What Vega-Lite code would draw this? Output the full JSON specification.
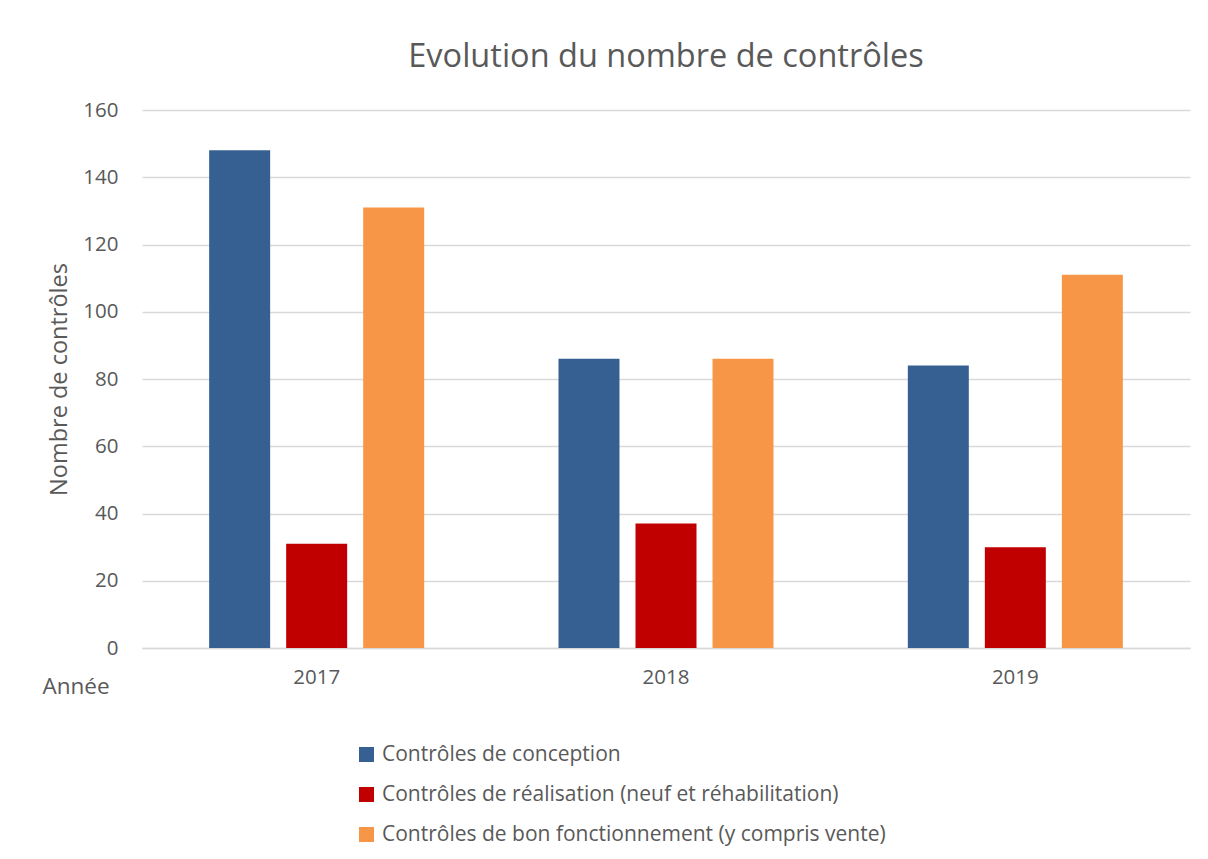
{
  "$schema": "https://vega.github.io/schema/vega-lite/v6.json",
  "width": 1048,
  "height": 538,
  "autosize": {"type": "none"},
  "padding": {"left": 142, "top": 110, "right": 18, "bottom": 211},
  "background": "white",
  "config": {
    "view": {"stroke": null},
    "font": "Open Sans",
    "axis": {"labelFont": "Open Sans", "titleFont": "Open Sans"},
    "legend": {"labelFont": "Open Sans"}
  },
  "title": {
    "text": "Evolution du nombre de contrôles",
    "fontSize": 32.5,
    "font": "Open Sans",
    "fontWeight": "normal",
    "color": "#595959",
    "anchor": "middle",
    "offset": 27
  },
  "data": {
    "values": [
      {"annee": "2017", "type": "Contrôles de conception", "n": 148},
      {"annee": "2017", "type": "Contrôles de réalisation (neuf et réhabilitation)", "n": 31},
      {"annee": "2017", "type": "Contrôles de bon fonctionnement (y compris vente)", "n": 131},
      {"annee": "2018", "type": "Contrôles de conception", "n": 86},
      {"annee": "2018", "type": "Contrôles de réalisation (neuf et réhabilitation)", "n": 37},
      {"annee": "2018", "type": "Contrôles de bon fonctionnement (y compris vente)", "n": 86},
      {"annee": "2019", "type": "Contrôles de conception", "n": 84},
      {"annee": "2019", "type": "Contrôles de réalisation (neuf et réhabilitation)", "n": 30},
      {"annee": "2019", "type": "Contrôles de bon fonctionnement (y compris vente)", "n": 111}
    ]
  },
  "mark": {"type": "bar"},
  "encoding": {
    "x": {
      "field": "annee",
      "type": "nominal",
      "scale": {"paddingInner": 0, "paddingOuter": 0},
      "axis": {
        "title": "Année",
        "titleAngle": 0,
        "titleX": -100,
        "titleY": 38,
        "titleAlign": "left",
        "titleBaseline": "middle",
        "titleFontSize": 22.5,
        "titleFontWeight": "normal",
        "titleColor": "#595959",
        "labelAngle": 0,
        "labelFontSize": 20.5,
        "labelColor": "#595959",
        "labelPadding": 19,
        "ticks": false,
        "domainColor": "#d9d9d9",
        "domainWidth": 1.3,
        "grid": false
      }
    },
    "xOffset": {
      "field": "type",
      "type": "nominal",
      "sort": ["Contrôles de conception", "Contrôles de réalisation (neuf et réhabilitation)", "Contrôles de bon fonctionnement (y compris vente)"],
      "scale": {"paddingInner": 0.208, "paddingOuter": 0.872}
    },
    "y": {
      "field": "n",
      "type": "quantitative",
      "scale": {"domain": [0, 160]},
      "axis": {
        "title": "Nombre de contrôles",
        "titleFontSize": 23.5,
        "titleFontWeight": "normal",
        "titleColor": "#595959",
        "titlePadding": 11,
        "values": [0, 20, 40, 60, 80, 100, 120, 140, 160],
        "labelFontSize": 20.5,
        "labelColor": "#595959",
        "labelPadding": 24,
        "ticks": false,
        "domain": false,
        "gridColor": "#d9d9d9",
        "gridWidth": 1.3
      }
    },
    "color": {
      "field": "type",
      "type": "nominal",
      "sort": ["Contrôles de conception", "Contrôles de réalisation (neuf et réhabilitation)", "Contrôles de bon fonctionnement (y compris vente)"],
      "scale": {
        "domain": ["Contrôles de conception", "Contrôles de réalisation (neuf et réhabilitation)", "Contrôles de bon fonctionnement (y compris vente)"],
        "range": ["#376092", "#C00000", "#F79646"]
      },
      "legend": {
        "title": null,
        "orient": "none",
        "legendX": 214,
        "legendY": 634,
        "direction": "vertical",
        "symbolType": "square",
        "symbolSize": 225,
        "symbolStrokeWidth": 0,
        "symbolOpacity": 1,
        "labelFontSize": 21,
        "labelColor": "#595959",
        "labelOffset": 5,
        "rowPadding": 18,
        "labelLimit": 800
      }
    }
  }
}
